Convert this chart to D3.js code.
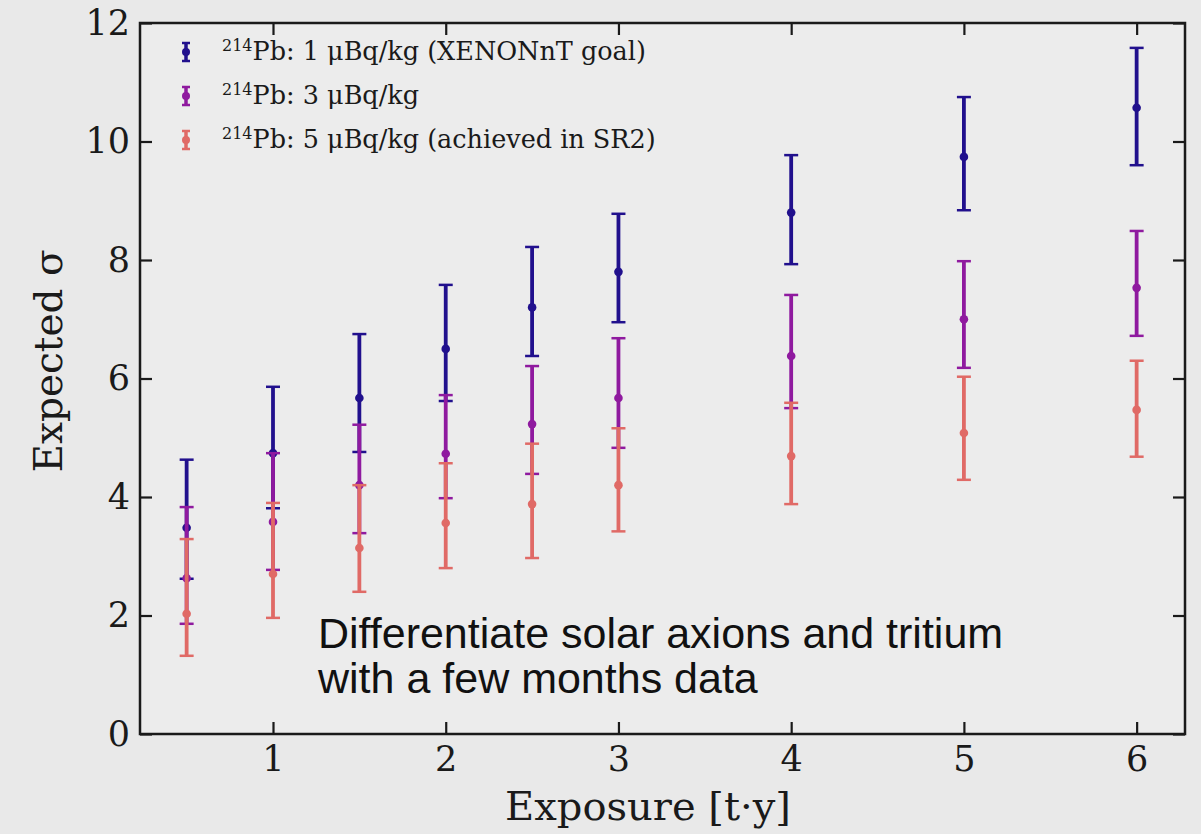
<!DOCTYPE html>
<html lang="en">
<meta charset="UTF-8">
<title>Expected significance vs exposure</title>
<script src="https://d3js.org/d3.v7.min.js"></script>
<style>
  body { margin: 0; background: #e9e9e9; }
  svg { display: block; }
</style>
<body>
<div id="chart"></div>
<script>
// exposure values [t·y]
var exposure = [0.5, 1, 1.5, 2, 2.5, 3, 4, 5, 6];

// 214Pb 1 uBq/kg
var pb1 = [3.48, 4.74, 5.67, 6.5, 7.2, 7.8, 8.8, 9.74, 10.57];
var pb1Lo = [2.62, 3.81, 4.76, 5.62, 6.38, 6.95, 7.93, 8.84, 9.6];
var pb1Hi = [4.63, 5.86, 6.75, 7.58, 8.22, 8.78, 9.77, 10.75, 11.58];

// 214Pb 3 uBq/kg
var pb3 = [2.63, 3.58, 4.2, 4.73, 5.23, 5.67, 6.38, 7.0, 7.53];
var pb3Lo = [1.86, 2.77, 3.39, 3.98, 4.39, 4.83, 5.5, 6.18, 6.72];
var pb3Hi = [3.83, 4.74, 5.22, 5.72, 6.21, 6.68, 7.41, 7.98, 8.49];

// 214Pb 5 uBq/kg
var pb5 = [2.03, 2.7, 3.14, 3.56, 3.88, 4.2, 4.69, 5.08, 5.47];
var pb5Lo = [1.32, 1.96, 2.4, 2.8, 2.97, 3.42, 3.88, 4.29, 4.68];
var pb5Hi = [3.29, 3.9, 4.2, 4.57, 4.9, 5.16, 5.59, 6.03, 6.3];

var seriesNames = ["1 μBq/kg (XENONnT goal)", "3 μBq/kg", "5 μBq/kg (achieved in SR2)"];
var seriesColors = ["#21108d", "#8f1a9f", "#e06a66"];

var xTicks = [1, 2, 3, 4, 5, 6];
var yTicks = [0, 2, 4, 6, 8, 10, 12];

var W = 1201, H = 834;
var plotL = 140, plotR = 1185, plotT = 23, plotB = 734;

var svg = d3.select("#chart").append("svg")
  .attr("width", W).attr("height", H);

svg.append("rect").attr("width", W).attr("height", H).attr("fill", "#e9e9e9");

var x = d3.scaleLinear().domain([0.23, 6.28]).range([plotL, plotR]);
var y = d3.scaleLinear().domain([0, 12]).range([plotB, plotT]);

// plot background
svg.append("rect")
  .attr("x", plotL).attr("y", plotT)
  .attr("width", plotR - plotL).attr("height", plotB - plotT)
  .attr("fill", "#ececec");

// build series table
var series = [
  {c: pb1, lo: pb1Lo, hi: pb1Hi},
  {c: pb3, lo: pb3Lo, hi: pb3Hi},
  {c: pb5, lo: pb5Lo, hi: pb5Hi}
].map(function(s, i) {
  return {
    name: seriesNames[i],
    color: seriesColors[i],
    points: exposure.map(function(e, j) {
      return {x: e, y: s.c[j], lo: s.lo[j], hi: s.hi[j]};
    })
  };
});

var capW = 7;
series.forEach(function(s) {
  var g = svg.append("g").attr("fill", s.color).attr("stroke", s.color);
  g.selectAll(".bar").data(s.points).enter().append("line")
    .attr("x1", function(d) { return x(d.x); })
    .attr("x2", function(d) { return x(d.x); })
    .attr("y1", function(d) { return y(d.lo); })
    .attr("y2", function(d) { return y(d.hi); })
    .attr("stroke-width", 3.8);
  ["lo", "hi"].forEach(function(k) {
    g.selectAll(".cap" + k).data(s.points).enter().append("line")
      .attr("x1", function(d) { return x(d.x) - capW; })
      .attr("x2", function(d) { return x(d.x) + capW; })
      .attr("y1", function(d) { return y(d[k]); })
      .attr("y2", function(d) { return y(d[k]); })
      .attr("stroke-width", 2.5);
  });
  g.selectAll("circle").data(s.points).enter().append("circle")
    .attr("cx", function(d) { return x(d.x); })
    .attr("cy", function(d) { return y(d.y); })
    .attr("r", 4.3)
    .attr("stroke", "none");
});

// axes - ticks inward on all sides
var tickLen = 12;
var axisCol = "#1a1a1a";
svg.append("g").attr("transform", "translate(0," + plotB + ")")
  .call(d3.axisBottom(x).tickValues(xTicks).tickSizeInner(-tickLen).tickSizeOuter(0).tickPadding(12).tickFormat(d3.format("d")));
svg.append("g").attr("transform", "translate(0," + plotT + ")")
  .call(d3.axisTop(x).tickValues(xTicks).tickSizeInner(-tickLen).tickSizeOuter(0).tickFormat(""));
svg.append("g").attr("transform", "translate(" + plotL + ",0)")
  .call(d3.axisLeft(y).tickValues(yTicks).tickSizeInner(-tickLen).tickSizeOuter(0).tickPadding(10).tickFormat(d3.format("d")));
svg.append("g").attr("transform", "translate(" + plotR + ",0)")
  .call(d3.axisRight(y).tickValues(yTicks).tickSizeInner(-tickLen).tickSizeOuter(0).tickFormat(""));

svg.selectAll(".domain").remove();
svg.selectAll(".tick line").attr("stroke", axisCol).attr("stroke-width", 2.2);
svg.selectAll(".tick text")
  .attr("fill", "#1a1a1a")
  .style("font-family", "'DejaVu Serif', serif")
  .style("font-size", "35px");

// frame
svg.append("rect")
  .attr("x", plotL).attr("y", plotT)
  .attr("width", plotR - plotL).attr("height", plotB - plotT)
  .attr("fill", "none").attr("stroke", axisCol).attr("stroke-width", 2.5);

// axis labels
svg.append("text")
  .attr("x", 648).attr("y", 820)
  .attr("text-anchor", "middle")
  .style("font-family", "'DejaVu Serif', serif")
  .style("font-size", "40px")
  .attr("fill", "#1a1a1a")
  .text("Exposure [t·y]");

svg.append("text")
  .attr("transform", "translate(62,361) rotate(-90)")
  .attr("text-anchor", "middle")
  .style("font-family", "'DejaVu Serif', serif")
  .style("font-size", "39px")
  .attr("fill", "#1a1a1a")
  .text("Expected σ");

// legend
var legend = svg.append("g");
series.forEach(function(s, i) {
  var cy = 52 + i * 44;
  var lg = legend.append("g").attr("stroke", s.color).attr("fill", s.color);
  lg.append("line").attr("x1", 186).attr("x2", 186).attr("y1", cy - 9).attr("y2", cy + 9).attr("stroke-width", 3.5);
  lg.append("line").attr("x1", 182).attr("x2", 190).attr("y1", cy - 9).attr("y2", cy - 9).attr("stroke-width", 2.5);
  lg.append("line").attr("x1", 182).attr("x2", 190).attr("y1", cy + 9).attr("y2", cy + 9).attr("stroke-width", 2.5);
  lg.append("circle").attr("cx", 186).attr("cy", cy).attr("r", 4).attr("stroke", "none");

  var t = legend.append("text")
    .attr("x", 222).attr("y", cy + 8)
    .style("font-family", "'DejaVu Serif', serif")
    .style("font-size", "25.5px")
    .attr("fill", "#1a1a1a");
  t.append("tspan").attr("dy", -9).style("font-size", "16px").text("214");
  t.append("tspan").attr("dy", 9).text("Pb: " + s.name);
});

// annotation
var note = svg.append("text")
  .style("font-family", "'Liberation Sans', Arial, sans-serif")
  .style("font-size", "43px")
  .attr("fill", "#111");
note.append("tspan").attr("x", 318).attr("y", 648).text("Differentiate solar axions and tritium");
note.append("tspan").attr("x", 318).attr("y", 693).text("with a few months data");
</script>
</body>
</html>
